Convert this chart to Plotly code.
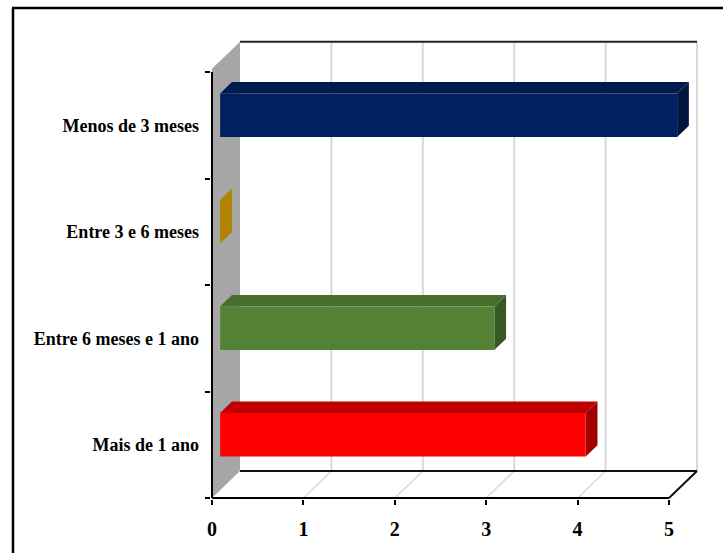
import plotly.graph_objects as go

# ---- data ----
categories = ["Mais de 1 ano", "Entre 6 meses e 1 ano", "Entre 3 e 6 meses", "Menos de 3 meses"]
values = [4, 3, 0, 5]
x_ticks = [0, 1, 2, 3, 4, 5]

# ---- style ----
front_colors = ["#FF0000", "#548235", "#BF8F00", "#002060"]
top_colors = ["#C00000", "#476E2C", "#B38600", "#001B4E"]
side_colors = ["#A00000", "#385723", "#B08400", "#001640"]

W, H = 723, 553
L, R, T, B = 211, 21, 36, 54
SX = 91.4      # px per value unit
SY = 106.5     # px per category band
X0PX = 212     # px of value 0 on front plane
Y0PX = 498     # px of front floor
plotW = W - L - R
plotH = H - T - B
xlo = -(X0PX - L) / SX
xhi = xlo + plotW / SX
ylo = -((H - B) - Y0PX) / SY
yhi = ylo + plotH / SY

DX = 28 / SX
DY = 27 / SY
WALL_TOP = 4.03
F1, F2 = 0.29, 0.71
BAR_H = 0.41
XMAX = 5
GRID = "#D9D9D9"

fig = go.Figure()

def poly(xs, ys, color, line=None, width=0):
    fig.add_trace(go.Scatter(x=xs + [xs[0]], y=ys + [ys[0]], mode="lines", fill="toself",
                             fillcolor=color, line=dict(color=line or color, width=width),
                             hoverinfo="skip", showlegend=False))

def seg(xs, ys, color, width):
    fig.add_trace(go.Scatter(x=xs, y=ys, mode="lines", line=dict(color=color, width=width),
                             hoverinfo="skip", showlegend=False))

# back wall gridlines
for k in x_ticks[1:]:
    seg([k + DX, k + DX], [DY, WALL_TOP + DY], GRID, 2)
# floor gridlines
for k in x_ticks[1:-1]:
    seg([k, k + DX], [0, DY], GRID, 1.5)
# back wall top edge
seg([DX, XMAX + DX], [WALL_TOP + DY, WALL_TOP + DY], "#222222", 2)
# side wall (gray)
poly([0, DX, DX, 0], [0, DY, WALL_TOP + DY, WALL_TOP], "#A6A6A6")
# back floor edge and right diagonal
seg([DX, XMAX + DX], [DY, DY], "#111111", 2)
seg([XMAX, XMAX + DX], [0, DY], "#111111", 2)

# bars
for i, (cat, v) in enumerate(zip(categories, values)):
    yc = i + 0.52
    fx0, fx1 = F1 * DX, v + F1 * DX
    fy0, fy1 = yc - BAR_H / 2 + F1 * DY, yc + BAR_H / 2 + F1 * DY
    bx = (F2 - F1) * DX
    by = (F2 - F1) * DY
    # top face
    poly([fx0, fx1, fx1 + bx, fx0 + bx], [fy1, fy1, fy1 + by, fy1 + by], top_colors[i])
    # side face
    poly([fx1, fx1, fx1 + bx, fx1 + bx], [fy0, fy1, fy1 + by, fy0 + by], side_colors[i])
    # front face
    if v > 0:
        poly([fx0, fx1, fx1, fx0], [fy0, fy0, fy1, fy1], front_colors[i])

# front axes
seg([0, XMAX], [0, 0], "#000000", 2)
seg([0, 0], [0, 4], "#000000", 2)

FAMILY = '"Liberation Serif", "Times New Roman", Times, "DejaVu Serif", serif'
yfont = dict(family=FAMILY, size=18, color="#000000", weight="bold")
xfont = dict(family=FAMILY, size=20, color="#000000", weight="bold")

fig.update_layout(
    width=W, height=H,
    margin=dict(l=L, r=R, t=T, b=B, pad=0),
    paper_bgcolor="#FFFFFF", plot_bgcolor="rgba(0,0,0,0)",
    showlegend=False,
    font=yfont,
    xaxis=dict(range=[xlo, xhi], tickmode="array", tickvals=x_ticks,
               ticktext=[str(t) for t in x_ticks],
               ticks="outside", ticklen=5, tickwidth=2, tickcolor="#000000",
               showgrid=False, zeroline=False, showline=False, fixedrange=True,
               tickfont=xfont, ticklabelstandoff=7),
    yaxis=dict(range=[ylo, yhi], tickmode="array", tickvals=[i + 0.5 for i in range(len(categories))],
               ticktext=categories, ticks="", showgrid=False, zeroline=False, showline=False,
               fixedrange=True, tickfont=yfont, ticklabelstandoff=11,
               minor=dict(tickmode="array", tickvals=[0, 1, 2, 3, 4], ticks="outside",
                          ticklen=5, tickwidth=2, tickcolor="#000000", showgrid=False)),
)

# outer frame (top and left edges visible)
def px2paper_x(px):
    return (px - L) / plotW

def px2paper_y(py):
    return ((H - B) - py) / plotH

fig.add_shape(type="line", xref="paper", yref="paper",
              x0=px2paper_x(12), x1=px2paper_x(740), y0=px2paper_y(8), y1=px2paper_y(8),
              line=dict(color="#000000", width=2.5))
fig.add_shape(type="line", xref="paper", yref="paper",
              x0=px2paper_x(13), x1=px2paper_x(13), y0=px2paper_y(8), y1=px2paper_y(570),
              line=dict(color="#000000", width=2.5))

fig.write_html("out.html")
